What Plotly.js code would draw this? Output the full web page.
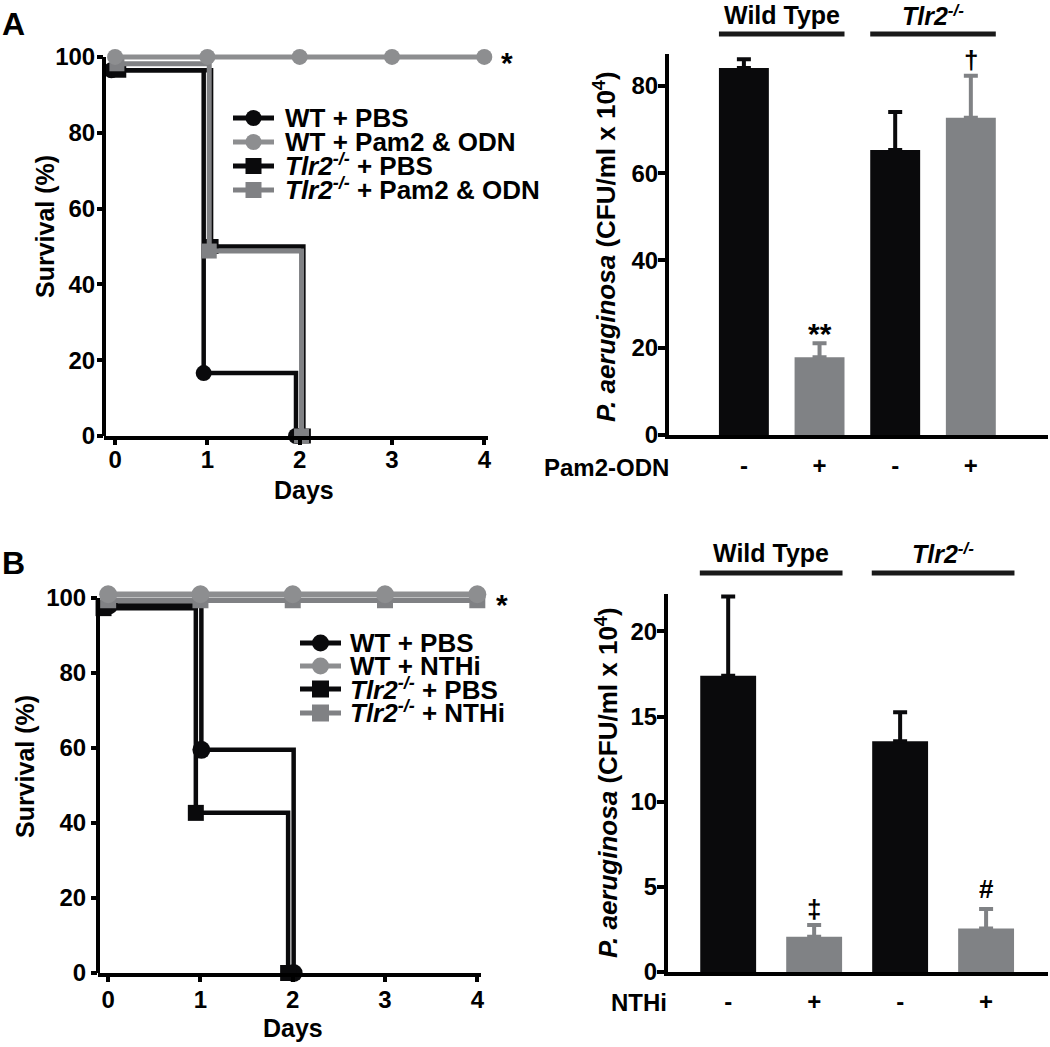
<!DOCTYPE html>
<html><head><meta charset="utf-8">
<script src="https://cdn.plot.ly/plotly-3.0.1.min.js"></script>
<style>html,body{margin:0;padding:0;background:#fff}#chart{width:1050px;height:1047px}</style>
</head><body><div id="chart"></div>
<script>
// ---------------- DATA ----------------
// Panel A - survival (%)
const daysA = [0, 1, 2];
const daysA_all = [0, 1, 2, 3, 4];
const survA_WT_PBS = [96.5, 16.6, 0];
const survA_WT_Pam2 = [100, 100, 100, 100, 100];
const survA_Tlr2_PBS = [96.5, 50, 0];
const survA_Tlr2_Pam2 = [98.2, 48.8, 0];
const legendA = ['WT + PBS', 'WT + Pam2 & ODN', 'Tlr2-/- + PBS', 'Tlr2-/- + Pam2 & ODN'];

// Panel B - survival (%)
const daysB = [0, 1, 2];
const daysB_all = [0, 1, 2, 3, 4];
const survB_WT_PBS = [98, 59.5, 0];
const survB_WT_NTHi = [100, 100, 100, 100, 100];
const survB_Tlr2_PBS = [97.3, 42.7, 0];
const survB_Tlr2_NTHi = [100, 100, 100, 100, 100];
const legendB = ['WT + PBS', 'WT + NTHi', 'Tlr2-/- + PBS', 'Tlr2-/- + NTHi'];

// Bar panels - P. aeruginosa CFU/ml x 10^4
const barGroups = ['Wild Type', 'Tlr2-/-'];
const treatTicks = ['-', '+', '-', '+'];
const barA_mean = [84.1, 17.8, 65.3, 72.7];
const barA_sem = [2.0, 3.2, 8.7, 9.6];
const barA_sig = ['', '**', '', '\u2020'];
const barB_mean = [17.4, 2.07, 13.55, 2.56];
const barB_sem = [4.66, 0.69, 1.7, 1.14];
const barB_sig = ['', '\u2021', '', '#'];

// ---------------- STYLE ----------------
const W = 1050, H = 1047;
const FONT = 'Liberation Sans, Arial, Helvetica, sans-serif';
const BLACK = '#0a0a0c', GRAYC = '#8d8e90', GRAYS = '#808184', BARGRAY = '#808285';
const X = p => p / W, Y = p => 1 - p / H;

// rich text with explicit sizes on every piece
function sp(t, size, extra) {
  return '<span style="font-size:' + size + 'px' + (extra ? ';' + extra : '') + '">' + t + '</span>';
}
function fmt(s, size) {
  const sup = Math.round(size * 0.68);
  const parts = s.split('Tlr2-/-');
  let out = '';
  parts.forEach((p, i) => {
    if (i > 0) out += sp('Tlr2', size, 'font-style:italic') + sp('-/-', sup, 'font-style:italic;baseline-shift:super');
    if (p) out += sp(p.replace(/&/g, '&amp;'), size);
  });
  return out;
}

function km(days, surv, xa, ya, color, symbol, msize, lw, dx, dy) {
  return {
    type: 'scatter', mode: 'lines+markers', xaxis: xa, yaxis: ya,
    x: days.map(d => d + dx), y: surv.map(v => v + dy),
    line: {shape: 'hv', color: color, width: lw},
    marker: {symbol: symbol, size: msize, color: color, line: {width: 0}},
    cliponaxis: false, showlegend: false, hoverinfo: 'skip'
  };
}

function bars(mean, sem, want, color, xa, ya, width) {
  const idx = treatTicks.map((t, i) => i).filter(i => treatTicks[i] === want);
  return {
    type: 'bar', xaxis: xa, yaxis: ya,
    x: idx, y: idx.map(i => mean[i]), width: width,
    marker: {color: color, line: {width: 0}},
    error_y: {type: 'data', symmetric: false, array: idx.map(i => sem[i]), arrayminus: idx.map(() => 0),
              color: color, thickness: 4, width: 7},
    showlegend: false, hoverinfo: 'skip'
  };
}

const traces = [
  km(daysA, survA_WT_PBS, 'x', 'y', BLACK, 'circle', 16, 4.5, -0.04, 0),
  km(daysA, survA_Tlr2_PBS, 'x', 'y', BLACK, 'square', 15, 4.5, 0.04, 0),
  km(daysA, survA_Tlr2_Pam2, 'x', 'y', GRAYS, 'square', 15, 5, 0.02, 0),
  km(daysA_all, survA_WT_Pam2, 'x', 'y', GRAYC, 'circle', 16, 5, 0, 0),
  km(daysB, survB_WT_PBS, 'x3', 'y3', BLACK, 'circle', 18, 4.5, 0.01, 0),
  km(daysB, survB_Tlr2_PBS, 'x3', 'y3', BLACK, 'square', 16, 4.5, -0.05, 0),
  km(daysB_all, survB_Tlr2_NTHi, 'x3', 'y3', GRAYS, 'square', 16, 5.5, 0, -0.6),
  km(daysB_all, survB_WT_NTHi, 'x3', 'y3', GRAYC, 'circle', 18, 5.5, 0, 1.0),
  bars(barA_mean, barA_sem, '-', BLACK, 'x2', 'y2', 0.66),
  bars(barA_mean, barA_sem, '+', BARGRAY, 'x2', 'y2', 0.66),
  bars(barB_mean, barB_sem, '-', BLACK, 'x4', 'y4', 0.65),
  bars(barB_mean, barB_sem, '+', BARGRAY, 'x4', 'y4', 0.65)
];

const tickfont = {family: FONT, size: 24, color: '#000', weight: 'bold'};
function axis(extra) {
  return Object.assign({
    showgrid: false, zeroline: false, showline: true, linecolor: '#000', linewidth: 4,
    ticks: 'outside', tickcolor: '#000', tickwidth: 4, ticklen: 6, tickfont: tickfont,
    fixedrange: true, tickmode: 'array'
  }, extra);
}

const layout = {
  width: W, height: H, margin: {l: 0, r: 0, t: 0, b: 0},
  paper_bgcolor: '#fff', plot_bgcolor: 'rgba(0,0,0,0)',
  barmode: 'overlay', showlegend: false,
  xaxis: axis({domain: [X(104), X(488)], range: [-0.12, 4.04], tickvals: [0, 1, 2, 3, 4], ticklen: 5,
               ticklabelstandoff: -6, anchor: 'y'}),
  yaxis: axis({domain: [Y(436), Y(41.8)], range: [0, 104], tickvals: [0, 20, 40, 60, 80, 100], showline: false,
               ticklabelstandoff: -3, anchor: 'x'}),
  xaxis2: axis({domain: [X(669), X(1048)], range: [-0.99, 4.02], tickvals: [0, 1, 2, 3], ticktext: treatTicks,
                tickcolor: 'rgba(0,0,0,0)', ticklen: 6, anchor: 'y2'}),
  yaxis2: axis({domain: [Y(435), Y(54)], range: [0, 87.3], tickvals: [0, 20, 40, 60, 80], ticklen: 7,
                ticklabelstandoff: -5, anchor: 'x2'}),
  xaxis3: axis({domain: [X(98), X(481)], range: [-0.11, 4.04], tickvals: [0, 1, 2, 3, 4], ticklen: 5,
                ticklabelstandoff: -3, anchor: 'y3'}),
  yaxis3: axis({domain: [Y(973), Y(583)], range: [0, 104], tickvals: [0, 20, 40, 60, 80, 100], showline: false, anchor: 'x3'}),
  xaxis4: axis({domain: [X(668), X(1048)], range: [-0.70, 3.72], tickvals: [0, 1, 2, 3], ticktext: treatTicks,
                tickcolor: 'rgba(0,0,0,0)', ticklen: 5, anchor: 'y4'}),
  yaxis4: axis({domain: [Y(972), Y(594)], range: [0, 22.2], tickvals: [0, 5, 10, 15, 20], ticklen: 7,
                ticklabelstandoff: -5, anchor: 'x4'}),
  shapes: [],
  annotations: []
};

const S = layout.shapes, A = layout.annotations;
function txt(o) {
  const base = {showarrow: false, xref: 'paper', yref: 'paper', xanchor: 'center', yanchor: 'middle',
                font: {family: FONT, size: 24, color: '#000', weight: 'bold'}};
  const r = Object.assign(base, o);
  if (o.size) { r.font = Object.assign({}, base.font, {size: o.size}); delete r.size; }
  return r;
}

// survival y-axis lines (0..100)
S.push({type: 'line', xref: 'x domain', yref: 'y', x0: 0, x1: 0, y0: 0, y1: 100, line: {color: '#000', width: 4}});
S.push({type: 'line', xref: 'x3 domain', yref: 'y3', x0: 0, x1: 0, y0: 0, y1: 100, line: {color: '#000', width: 4}});

// panel letters
A.push(txt({text: 'A', x: X(0), xanchor: 'left', y: Y(24), size: 32}));
A.push(txt({text: 'B', x: X(0), xanchor: 'left', y: Y(563), size: 32}));

// survival titles
A.push(txt({text: 'Survival (%)', x: X(45), y: Y(227), textangle: -90, size: 25}));
A.push(txt({text: 'Survival (%)', x: X(25), y: Y(767), textangle: -90, size: 25}));
A.push(txt({text: 'Days', x: X(304), y: Y(490), size: 25}));
A.push(txt({text: 'Days', x: X(293), y: Y(1028), size: 25}));
// significance stars on survival
A.push(txt({text: '*', xref: 'x', yref: 'y', x: 4, y: 100, xshift: 23, yshift: -6, size: 30}));
A.push(txt({text: '*', xref: 'x3', yref: 'y3', x: 4, y: 100, xshift: 25, yshift: -6, size: 30}));

// legends: symbol keys as shapes, the four names as one block of lines
function legend(rows, names, colors, symbols, lx0, lx1, tx, msz) {
  rows.forEach((ry, i) => {
    S.push({type: 'line', xref: 'paper', yref: 'paper', x0: X(lx0), x1: X(lx1), y0: Y(ry), y1: Y(ry),
            line: {color: colors[i], width: 5}});
    const cx = (lx0 + lx1) / 2, r = msz / 2;
    S.push({type: symbols[i], xref: 'paper', yref: 'paper', x0: X(cx - r), x1: X(cx + r), y0: Y(ry + r), y1: Y(ry - r),
            fillcolor: colors[i], line: {width: 0}});
  });
  const step = (rows[rows.length - 1] - rows[0]) / (rows.length - 1);
  const mid = (rows[0] + rows[rows.length - 1]) / 2;
  A.push(txt({text: names.map(n => fmt(n, 26)).join('<br>'), x: X(tx), xanchor: 'left', align: 'left',
              y: Y(mid), size: step / 1.3}));
}
legend([118, 142, 166, 190], legendA, [BLACK, GRAYC, BLACK, GRAYS], ['circle', 'circle', 'rect', 'rect'], 233, 274, 283, 16);
legend([643, 666, 689, 713], legendB, [BLACK, GRAYC, BLACK, GRAYS], ['circle', 'circle', 'rect', 'rect'], 300, 341, 348, 17);

// bar panel titles
const barTitle = sp('P. aeruginosa', 26, 'font-style:italic') + sp(' (CFU/ml x 10', 26) +
                 sp('4', 18, 'baseline-shift:super') + sp(')', 26);
A.push(txt({text: barTitle, x: X(605), y: Y(247), textangle: -90, size: 26}));
A.push(txt({text: barTitle, x: X(607), y: Y(783), textangle: -90, size: 26}));
A.push(txt({text: 'Pam2-ODN', x: X(671), xanchor: 'right', y: Y(467), size: 24}));
A.push(txt({text: 'NTHi', x: X(669), xanchor: 'right', y: Y(1002), size: 24}));

// group headers
function headers(xa, textY, lineY) {
  barGroups.forEach((g, gi) => {
    const c = gi * 2 + 0.5;
    A.push(txt({text: fmt(g, 25), xref: xa, x: c, y: Y(textY), size: 25}));
    S.push({type: 'line', xref: xa, yref: 'paper', x0: c - 0.83, x1: c + 0.83, y0: Y(lineY), y1: Y(lineY),
            line: {color: '#1a1a1a', width: 5}});
  });
}
headers('x2', 15, 34);
headers('x4', 553, 573);

// significance labels above bars
function sig(labels, mean, sem, xa, ya) {
  labels.forEach((s, i) => {
    if (!s) return;
    const shift = s === '**' ? 10 : (s === '#' ? 20 : 16);
    A.push(txt({text: s, xref: xa, yref: ya, x: i, y: mean[i] + sem[i], yshift: shift, size: s === '**' ? 30 : 26}));
  });
}
sig(barA_sig, barA_mean, barA_sem, 'x2', 'y2');
sig(barB_sig, barB_mean, barB_sem, 'x4', 'y4');

Plotly.newPlot('chart', traces, layout, {staticPlot: true, displayModeBar: false});
</script></body></html>
